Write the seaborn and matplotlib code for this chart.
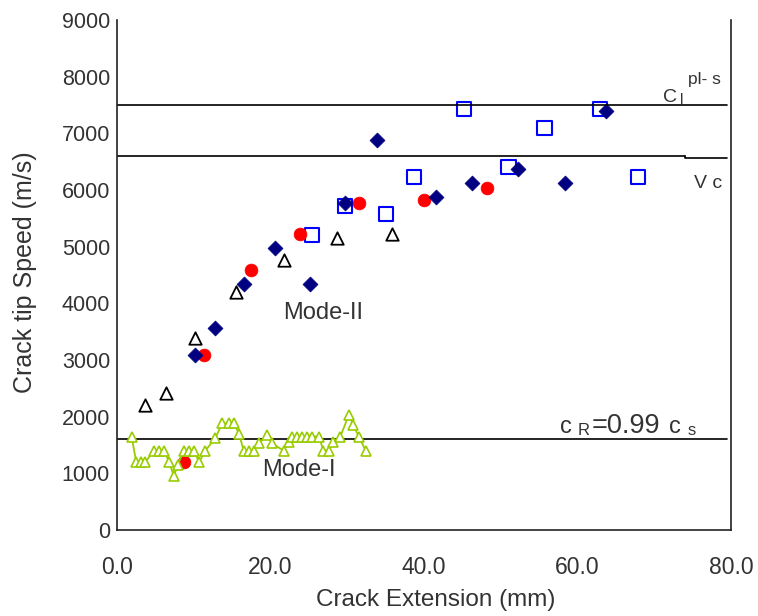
import numpy as np
import pandas as pd
import matplotlib
matplotlib.use("Agg")
import matplotlib.pyplot as plt
import seaborn as sns

# ---------------------------------------------------------------------------
# Data
# ---------------------------------------------------------------------------
diamond_x = [10.2, 12.7, 16.6, 20.6, 25.2, 29.7, 33.9, 41.6, 46.2, 52.3, 58.4, 63.7]
diamond_y = [3090, 3570, 4340, 4980, 4340, 5770, 6880, 5870, 6130, 6370, 6130, 7390]

circle_x = [8.7, 11.3, 17.4, 23.9, 31.5, 40.0, 48.2]
circle_y = [1200, 3090, 4590, 5220, 5770, 5830, 6030]

square_x = [25.4, 29.7, 35.0, 38.7, 45.2, 51.0, 55.7, 62.9, 67.9]
square_y = [5210, 5720, 5570, 6230, 7430, 6410, 7100, 7430, 6230]

triangle_x = [3.6, 6.4, 10.1, 15.5, 21.7, 28.6, 35.8]
triangle_y = [2200, 2420, 3390, 4200, 4760, 5150, 5220]

mode1_x = [1.9, 2.5, 3.1, 3.7, 4.8, 5.5, 6.1, 6.8, 7.4, 7.9, 8.7, 9.4, 10.0,
           10.7, 11.5, 12.8, 13.7, 14.6, 15.2, 15.9, 16.5, 17.2, 17.8, 18.5,
           19.6, 20.2, 21.7, 22.4, 22.8, 23.5, 24.1, 24.8, 25.4, 26.3, 26.9,
           27.6, 28.2, 29.1, 30.2, 30.8, 31.5, 32.4]
mode1_y = [1650, 1200, 1200, 1200, 1400, 1400, 1400, 1200, 950, 1150, 1400,
           1400, 1400, 1200, 1400, 1620, 1880, 1880, 1880, 1700, 1400, 1400,
           1400, 1530, 1680, 1530, 1400, 1560, 1650, 1650, 1650, 1650, 1650,
           1650, 1400, 1400, 1560, 1650, 2030, 1850, 1650, 1400]

CL_PLS = 7500           # C_l^{pl-s}
VC_LEVELS = [6600, 6560]
VC_STEP_X = 74.0
CR_LEVEL = 1600         # c_R = 0.99 c_s

x_ticks = [0, 20, 40, 60, 80]
x_tick_labels = ["0.0", "20.0", "40.0", "60.0", "80.0"]

# ---------------------------------------------------------------------------
# Plot
# ---------------------------------------------------------------------------
sns.set_style("white")
plt.rcParams["font.family"] = ["Liberation Sans", "DejaVu Sans"]

fig = plt.figure(figsize=(7.58, 6.16), dpi=100)
ax = fig.add_axes([0.1544, 0.1396, 0.8100, 0.8279])

text_col = "#333333"

# reference lines
ax.axhline(CL_PLS, color="black", lw=1.2, xmax=0.994)
ax.plot([0, VC_STEP_X], [VC_LEVELS[0]] * 2, color="black", lw=1.2)
ax.plot([VC_STEP_X, VC_STEP_X, 79.5], [VC_LEVELS[0], VC_LEVELS[1], VC_LEVELS[1]],
        color="black", lw=1.2)
ax.axhline(CR_LEVEL, color="black", lw=1.2, xmax=0.994)

# Mode-I trace
mode1 = pd.DataFrame({"x": mode1_x, "y": mode1_y})
sns.lineplot(data=mode1, x="x", y="y", ax=ax, sort=False, estimator=None,
             color="#99cc00", lw=1.3, marker="^", markersize=7,
             markerfacecolor="white", markeredgecolor="#99cc00",
             markeredgewidth=1.2)

# Mode-II scatter series
tri = pd.DataFrame({"x": triangle_x, "y": triangle_y})
sns.scatterplot(data=tri, x="x", y="y", ax=ax, marker="^", s=80,
                facecolor="white", edgecolor="black", linewidth=1.3)

sq = pd.DataFrame({"x": square_x, "y": square_y})
sns.scatterplot(data=sq, x="x", y="y", ax=ax, marker="s", s=105,
                facecolor="none", edgecolor="#0000ff", linewidth=1.5)

circ = pd.DataFrame({"x": circle_x, "y": circle_y})
sns.scatterplot(data=circ, x="x", y="y", ax=ax, marker="o", s=85,
                color="#ff0000", edgecolor="#ff0000", linewidth=0.5)

dia = pd.DataFrame({"x": diamond_x, "y": diamond_y})
sns.scatterplot(data=dia, x="x", y="y", ax=ax, marker="D", s=58,
                color="#000080", edgecolor="#000080", linewidth=0.5)

# annotations
ax.text(26.9, 3830, "Mode-II", fontsize=17, color=text_col, ha="center", va="center")
ax.text(23.7, 1060, "Mode-I", fontsize=17, color=text_col, ha="center", va="center")

# c_R = 0.99 c_s
ax.text(57.7, 1712, "c", fontsize=17, color=text_col, ha="left", va="baseline")
ax.text(60.0, 1676, "R", fontsize=12, color=text_col, ha="left", va="baseline")
ax.text(61.8, 1712, "=0.99", fontsize=19.5, color=text_col, ha="left", va="baseline")
ax.text(71.9, 1712, "c", fontsize=17, color=text_col, ha="left", va="baseline")
ax.text(74.3, 1676, "s", fontsize=12, color=text_col, ha="left", va="baseline")

# C_l^{pl-s}
ax.text(71.2, 7550, "C", fontsize=14, color=text_col, ha="left", va="baseline")
ax.text(73.3, 7510, "l", fontsize=11, color=text_col, ha="left", va="baseline")
ax.text(74.4, 7870, "pl- s", fontsize=12.5, color=text_col, ha="left", va="baseline")

# V_c
ax.text(75.2, 6035, "V c", fontsize=14, color=text_col, ha="left", va="baseline")

# axes styling
ax.set_xlim(0, 80)
ax.set_ylim(0, 9000)
ax.set_xticks(x_ticks)
ax.set_xticklabels(x_tick_labels)
ax.set_yticks(np.arange(0, 9001, 1000))
ax.tick_params(axis="x", direction="out", length=6, width=1, color="black",
               labelsize=16.5, labelcolor=text_col, pad=13)
ax.tick_params(axis="y", length=0, labelsize=15.5, labelcolor=text_col, pad=5)
ax.set_xlabel("Crack Extension (mm)", fontsize=17.5, color=text_col)
ax.set_ylabel("Crack tip Speed (m/s)", fontsize=18, color=text_col)
ax.xaxis.set_label_coords(0.5195, -0.1157)
ax.yaxis.set_label_coords(-0.130, 0.506)

for side in ["left", "bottom", "right"]:
    ax.spines[side].set_visible(True)
    ax.spines[side].set_color("#222222")
    ax.spines[side].set_linewidth(1.2)
ax.spines["top"].set_visible(False)

fig.savefig("out.png", dpi=100)
